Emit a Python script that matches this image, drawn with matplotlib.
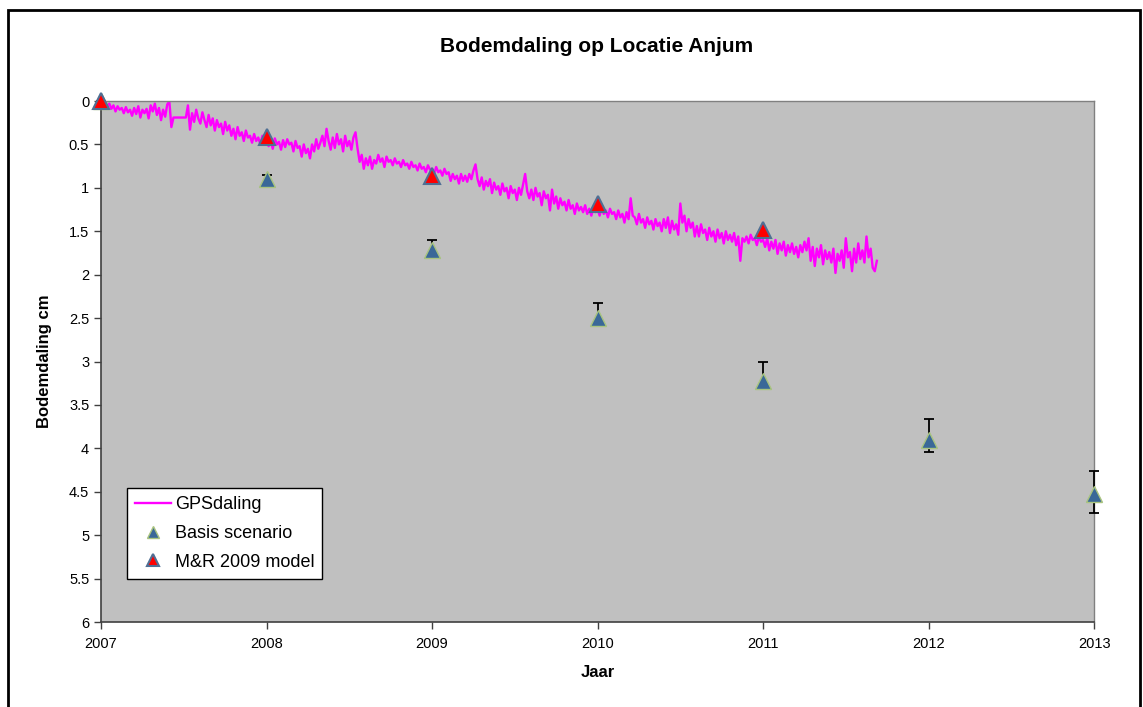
import numpy as np
import matplotlib.pyplot as plt
from matplotlib.patches import Rectangle

plt.rcParams['font.family'] = ['Liberation Sans', 'DejaVu Sans']

# model points (cm subsidence per year)
years = [2007, 2008, 2009, 2010, 2011, 2012, 2013]
basis = [0.0, 0.90, 1.72, 2.50, 3.23, 3.90, 4.53]
basis_lo = [0.0, 0.85, 1.60, 2.33, 3.00, 3.66, 4.26]
basis_hi = [0.0, 0.95, 1.80, 2.55, 3.32, 4.04, 4.75]
mr_years = [2007, 2008, 2009, 2010, 2011]
mr2009 = [0.0, 0.41, 0.86, 1.19, 1.49]

# GPS subsidence, every 0.0125 year from 2007.0
gps_start = 2007.0
gps_step = 0.0125
gps = [
    0.00, 0.04, 0.02, 0.07, 0.03, 0.09, 0.05, 0.12, 0.06, 0.10, 0.08, 0.14, 0.07, 0.13, 0.10, 0.17,
    0.08, 0.15, 0.06, 0.19, 0.10, 0.14, 0.09, 0.20, 0.05, 0.12, 0.03, 0.16, 0.08, 0.22, 0.10, 0.18,
    0.04, 0.00, 0.30, 0.19, 0.19, 0.19, 0.19, 0.19, 0.19, 0.19, 0.05, 0.33, 0.14, 0.24, 0.10, 0.20,
    0.26, 0.13, 0.22, 0.30, 0.16, 0.28, 0.20, 0.34, 0.22, 0.30, 0.26, 0.38, 0.24, 0.34, 0.28, 0.40,
    0.32, 0.44, 0.30, 0.40, 0.36, 0.46, 0.34, 0.42, 0.40, 0.48, 0.38, 0.46, 0.42, 0.50, 0.40, 0.47,
    0.44, 0.52, 0.46, 0.55, 0.43, 0.50, 0.47, 0.56, 0.45, 0.53, 0.44, 0.50, 0.48, 0.58, 0.46, 0.54,
    0.52, 0.64, 0.50, 0.60, 0.55, 0.66, 0.50, 0.58, 0.44, 0.55, 0.48, 0.40, 0.52, 0.32, 0.46, 0.56,
    0.42, 0.54, 0.38, 0.50, 0.44, 0.58, 0.40, 0.52, 0.46, 0.56, 0.42, 0.36, 0.55, 0.70, 0.62, 0.78,
    0.66, 0.74, 0.64, 0.78, 0.68, 0.72, 0.62, 0.70, 0.66, 0.76, 0.64, 0.70, 0.68, 0.74, 0.66, 0.72,
    0.70, 0.76, 0.68, 0.74, 0.72, 0.78, 0.70, 0.76, 0.74, 0.80, 0.72, 0.78, 0.76, 0.82, 0.74, 0.79,
    0.78, 0.84, 0.76, 0.82, 0.80, 0.86, 0.78, 0.84, 0.82, 0.92, 0.84, 0.90, 0.86, 0.95, 0.84, 0.92,
    0.86, 0.93, 0.84, 0.90, 0.80, 0.73, 0.90, 0.98, 0.88, 1.02, 0.92, 0.98, 0.90, 1.06, 0.94, 1.02,
    0.98, 1.08, 0.95, 1.04, 1.00, 1.12, 0.98, 1.06, 1.02, 1.14, 1.00, 1.08, 0.96, 0.84, 1.04, 1.12,
    1.02, 1.14, 1.00, 1.10, 1.06, 1.20, 1.04, 1.12, 1.08, 1.26, 1.02, 1.18, 1.10, 1.24, 1.12, 1.20,
    1.16, 1.26, 1.14, 1.24, 1.20, 1.30, 1.18, 1.26, 1.22, 1.28, 1.20, 1.30, 1.24, 1.32, 1.22, 1.28,
    1.24, 1.32, 1.22, 1.30, 1.26, 1.34, 1.24, 1.30, 1.28, 1.36, 1.26, 1.34, 1.30, 1.40, 1.28, 1.36,
    1.12, 1.32, 1.34, 1.42, 1.30, 1.40, 1.36, 1.46, 1.34, 1.42, 1.38, 1.48, 1.36, 1.44, 1.40, 1.50,
    1.36, 1.46, 1.34, 1.52, 1.38, 1.48, 1.42, 1.54, 1.18, 1.40, 1.32, 1.50, 1.36, 1.46, 1.40, 1.56,
    1.44, 1.56, 1.42, 1.52, 1.48, 1.60, 1.46, 1.56, 1.50, 1.62, 1.48, 1.58, 1.52, 1.64, 1.50, 1.60,
    1.54, 1.62, 1.52, 1.66, 1.56, 1.84, 1.58, 1.62, 1.56, 1.64, 1.54, 1.60, 1.58, 1.66, 1.56, 1.62,
    1.60, 1.68, 1.58, 1.72, 1.62, 1.70, 1.60, 1.76, 1.64, 1.72, 1.62, 1.78, 1.66, 1.74, 1.64, 1.76,
    1.68, 1.80, 1.66, 1.74, 1.62, 1.72, 1.58, 1.84, 1.68, 1.90, 1.70, 1.80, 1.66, 1.88, 1.72, 1.82,
    1.74, 1.86, 1.70, 1.98, 1.76, 1.84, 1.72, 1.92, 1.58, 1.80, 1.74, 1.96, 1.70, 1.86, 1.64, 1.82,
    1.72, 1.86, 1.56, 1.80, 1.70, 1.92, 1.96, 1.84,
]
gps_t = gps_start + gps_step * np.arange(len(gps))

fig = plt.figure(figsize=(11.43, 7.07), dpi=100)
ax = fig.add_axes([0.0884, 0.1202, 0.8688, 0.7369])
ax.set_facecolor('#C0C0C0')

ax.plot(gps_t, gps, color='#FF00FF', lw=1.7, label='GPSdaling', zorder=2)

b = np.array(basis)
yerr = [b - np.array(basis_lo), np.array(basis_hi) - b]
ax.errorbar(years, basis, yerr=yerr, fmt='none', ecolor='black',
            elinewidth=1.3, capsize=3.5, capthick=1.3, zorder=3,
            clip_on=False)
ax.plot(years, basis, ls='none', marker='^', ms=11, mfc='#3A6898',
        mec='#A9C47F', mew=1, label='Basis scenario', zorder=4,
        clip_on=False)
ax.plot(mr_years, mr2009, ls='none', marker='^', ms=11, mfc='#FF0000',
        mec='#4F6F94', mew=1.5, label='M&R 2009 model', zorder=5,
        clip_on=False)

ax.set_xlim(2007, 2013)
ax.set_ylim(6, 0)
ax.set_xticks(years)
ax.set_yticks(np.arange(0, 6.01, 0.5))
ax.set_yticklabels(['0', '0.5', '1', '1.5', '2', '2.5', '3', '3.5',
                    '4', '4.5', '5', '5.5', '6'])
ax.tick_params(labelsize=10.5, direction='out', length=5, width=1,
               color='#404040')
ax.tick_params(axis='x', pad=6)

for s in ['left', 'bottom']:
    ax.spines[s].set_color('#404040')
    ax.spines[s].set_linewidth(1.2)
for s in ['top', 'right']:
    ax.spines[s].set_color('#808080')
    ax.spines[s].set_linewidth(1)

ax.set_xlabel('Jaar', fontsize=12, fontweight='bold', labelpad=10)
ax.set_ylabel('Bodemdaling cm', fontsize=12, fontweight='bold', labelpad=12)
fig.text(0.522, 0.934, 'Bodemdaling op Locatie Anjum', ha='center',
         va='center', fontsize=15, fontweight='bold')

leg = ax.legend(loc='lower left', bbox_to_anchor=(0.026, 0.083),
                fontsize=13, frameon=True, fancybox=False,
                handlelength=2.0, handletextpad=0.2, borderpad=0.45,
                labelspacing=0.65, borderaxespad=0, markerscale=0.75)
leg.get_frame().set_edgecolor('black')
leg.get_frame().set_linewidth(1)
leg.get_frame().set_facecolor('white')
leg.get_frame().set_alpha(1)

# outer frame of the chart
fig.patches.append(Rectangle((8 / 1143, -0.05), 1132 / 1143, 1.05 - 10 / 707,
                             transform=fig.transFigure, fill=False,
                             edgecolor='black', lw=2))

fig.savefig('out.png', dpi=100)
